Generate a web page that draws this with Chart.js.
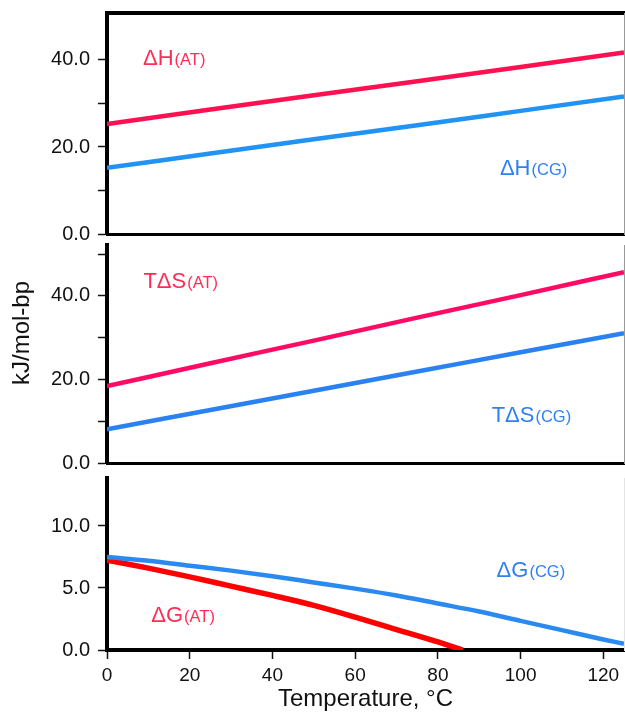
<!DOCTYPE html>
<html><head><meta charset="utf-8">
<script src="https://cdn.jsdelivr.net/npm/chart.js@4.4.1/dist/chart.umd.min.js"></script>
<style>
html,body{margin:0;padding:0;background:#fff;}
#wrap{position:relative;width:625px;height:716px;overflow:hidden;}
canvas{position:absolute;left:0;}
</style></head><body>
<div id="wrap">
<canvas id="c1" style="top:0px" width="625" height="245"></canvas>
<canvas id="c2" style="top:238px" width="625" height="236"></canvas>
<canvas id="c3" style="top:470px" width="625" height="246"></canvas>
</div>
<script>
// ---- data ----
const temps = [0, 25, 50, 75, 100, 125];
const dH_AT = [25.3, 28.6, 31.9, 35.1, 38.4, 41.7];
const dH_CG = [15.2, 18.5, 21.8, 25.0, 28.3, 31.6];
const TdS_AT = [18.4, 23.9, 29.3, 34.8, 40.2, 45.7];
const TdS_CG = [8.1, 12.7, 17.3, 21.9, 26.5, 31.1];
const tempsG_AT = [0, 10, 20, 30, 40, 50, 60, 70, 80, 86];
const dG_AT = [7.25, 6.6, 5.9, 5.15, 4.4, 3.6, 2.65, 1.65, 0.65, 0];
const tempsG_CG = [0, 10, 20, 30, 40, 50, 60, 70, 80, 90, 100, 110, 120, 125];
const dG_CG = [7.5, 7.2, 6.8, 6.4, 5.95, 5.45, 4.95, 4.4, 3.75, 3.1, 2.35, 1.6, 0.85, 0.5];
const xTicks = [0, 20, 40, 60, 80, 100, 120];
const yTicksTop = [0, 10, 20, 30, 40];
const yTicksMid = [0, 10, 20, 30, 40, 50];
const yTicksBot = [0, 5, 10];
const yLabeledTop = [0, 20, 40];
const yLabeledMid = [0, 20, 40];
const yLabeledBot = [0, 5, 10];
const xTitle = 'Temperature, \u00B0C';
const yTitle = 'kJ/mol-bp';
// labels: [main, sub, x, y, group]
const labelsTop = [['\u0394H', '(AT)', 8.7, 38.85, 'AT'], ['\u0394H', '(CG)', 95.0, 13.56, 'CG']];
const labelsMid = [['T\u0394S', '(AT)', 8.8, 42.0, 'AT'], ['T\u0394S', '(CG)', 93.0, 9.9, 'CG']];
const labelsBot = [['\u0394G', '(CG)', 94.2, 5.91, 'CG'], ['\u0394G', '(AT)', 10.7, 2.25, 'AT']];

const FONT = "'Liberation Sans', Arial, Helvetica, sans-serif";
const RED_TXT = '#ff2d55', BLUE_TXT = '#2f7ff5';
const pts = (xs, ys) => xs.map((x, i) => ({x: x, y: ys[i]}));

function lineDs(label, xs, ys, color, w) {
  return {label: label, data: pts(xs, ys), borderColor: color, backgroundColor: color,
    borderWidth: w, pointRadius: 0, cubicInterpolationMode: 'monotone', fill: false};
}

function labelPlugin(list) {
  return {
    id: 'seriesLabels',
    afterDatasetsDraw(chart) {
      const ctx = chart.ctx, xs = chart.scales.x, ys = chart.scales.y;
      ctx.save();
      ctx.textBaseline = 'alphabetic';
      ctx.textAlign = 'left';
      list.forEach(l => {
        const px = xs.getPixelForValue(l[2]), py = ys.getPixelForValue(l[3]);
        ctx.fillStyle = l[4] === 'AT' ? RED_TXT : BLUE_TXT;
        ctx.font = '22px ' + FONT;
        ctx.fillText(l[0], px, py);
        const w = ctx.measureText(l[0]).width;
        ctx.font = '16.5px ' + FONT;
        ctx.fillText(l[1], px + w + 1, py);
      });
      ctx.restore();
    }
  };
}

const yTitlePlugin = {
  id: 'yTitle',
  afterDraw(chart) {
    const ctx = chart.ctx;
    ctx.save();
    ctx.translate(22, 95);
    ctx.rotate(-Math.PI / 2);
    ctx.font = '24px ' + FONT;
    ctx.fillStyle = '#111';
    ctx.textAlign = 'center';
    ctx.textBaseline = 'middle';
    ctx.fillText(yTitle, 0, 0);
    ctx.restore();
  }
};

function yScale(max, ticks, labeled) {
  return {
    type: 'linear', position: 'left', min: 0, max: max,
    afterBuildTicks: s => { s.ticks = ticks.map(v => ({value: v})); },
    afterFit: s => { s.width = 107; s.paddingTop = 0; s.paddingBottom = 0; },
    ticks: {
      color: '#111', font: {family: FONT, size: 20}, padding: 8,
      callback: v => labeled.includes(v) ? v.toFixed(1) : ''
    },
    grid: {drawOnChartArea: false, drawTicks: true, tickLength: 9, tickColor: '#111', tickWidth: 1.5},
    border: {display: true, width: 4, color: '#000'}
  };
}
function rightScale(color) {
  return {type: 'linear', position: 'right', min: 0, max: 1,
    afterFit: s => { s.width = 0; s.paddingTop = 0; s.paddingBottom = 0; },
    ticks: {display: false}, grid: {display: false},
    border: {display: true, width: 1, color: color}};
}
function xHidden(pos, bw) {
  return {type: 'linear', position: pos, min: 0, max: 125,
    afterFit: s => { s.height = 0; s.paddingLeft = 0; s.paddingRight = 0; },
    ticks: {display: false}, grid: {display: false},
    border: {display: true, width: bw, color: '#000'}};
}

const common = {
  responsive: false, animation: false, devicePixelRatio: 1,
  plugins: {legend: {display: false}, tooltip: {enabled: false}, title: {display: false}}
};

// Panel 1: enthalpy
new Chart(document.getElementById('c1'), {
  type: 'line',
  data: {datasets: [
    lineDs('\u0394H(AT)', temps, dH_AT, '#ff1050', 4.5),
    lineDs('\u0394H(CG)', temps, dH_CG, '#2193f5', 4.5)
  ]},
  options: Object.assign({}, common, {
    layout: {autoPadding: false, padding: {top: 13, bottom: 11, left: 0, right: 1}},
    scales: {
      x: xHidden('bottom', 3),
      x2: xHidden('top', 4),
      y: yScale(50.8, yTicksTop, yLabeledTop),
      y2: rightScale('#999')
    }
  }),
  plugins: [labelPlugin(labelsTop)]
});

// Panel 2: entropy term
new Chart(document.getElementById('c2'), {
  type: 'line',
  data: {datasets: [
    lineDs('T\u0394S(AT)', temps, TdS_AT, '#ff0a64', 4.5),
    lineDs('T\u0394S(CG)', temps, TdS_CG, '#2a82f2', 4.5)
  ]},
  options: Object.assign({}, common, {
    layout: {autoPadding: false, padding: {top: 7, bottom: 11, left: 0, right: 1}},
    scales: {
      x: xHidden('bottom', 3),
      y: yScale(52.2, yTicksMid, yLabeledMid),
      y2: rightScale('#999')
    }
  }),
  plugins: [labelPlugin(labelsMid), yTitlePlugin]
});

// Panel 3: free energy
new Chart(document.getElementById('c3'), {
  type: 'line',
  data: {datasets: [
    lineDs('\u0394G(CG)', tempsG_CG, dG_CG, '#2a8af0', 4.5),
    lineDs('\u0394G(AT)', tempsG_AT, dG_AT, '#ff0000', 5.5)
  ]},
  options: Object.assign({}, common, {
    layout: {autoPadding: false, padding: {top: 8, bottom: 0, left: 0, right: 1}},
    scales: {
      x: {
        type: 'linear', position: 'bottom', min: 0, max: 125,
        afterBuildTicks: s => { s.ticks = xTicks.map(v => ({value: v})); },
        afterFit: s => { s.height = 66; s.paddingLeft = 0; s.paddingRight = 0; },
        ticks: {color: '#111', font: {family: FONT, size: 19}, padding: 5, maxRotation: 0,
          callback: v => String(v)},
        grid: {drawOnChartArea: false, drawTicks: true, tickLength: 9, tickColor: '#111', tickWidth: 1.5},
        border: {display: true, width: 4, color: '#000'},
        title: {display: true, text: xTitle, color: '#111', font: {family: FONT, size: 24},
          padding: {top: 0, bottom: 2}}
      },
      y: yScale(13.87, yTicksBot, yLabeledBot),
      y2: rightScale('#e4e4e4')
    }
  }),
  plugins: [labelPlugin(labelsBot)]
});
</script>
</body></html>
